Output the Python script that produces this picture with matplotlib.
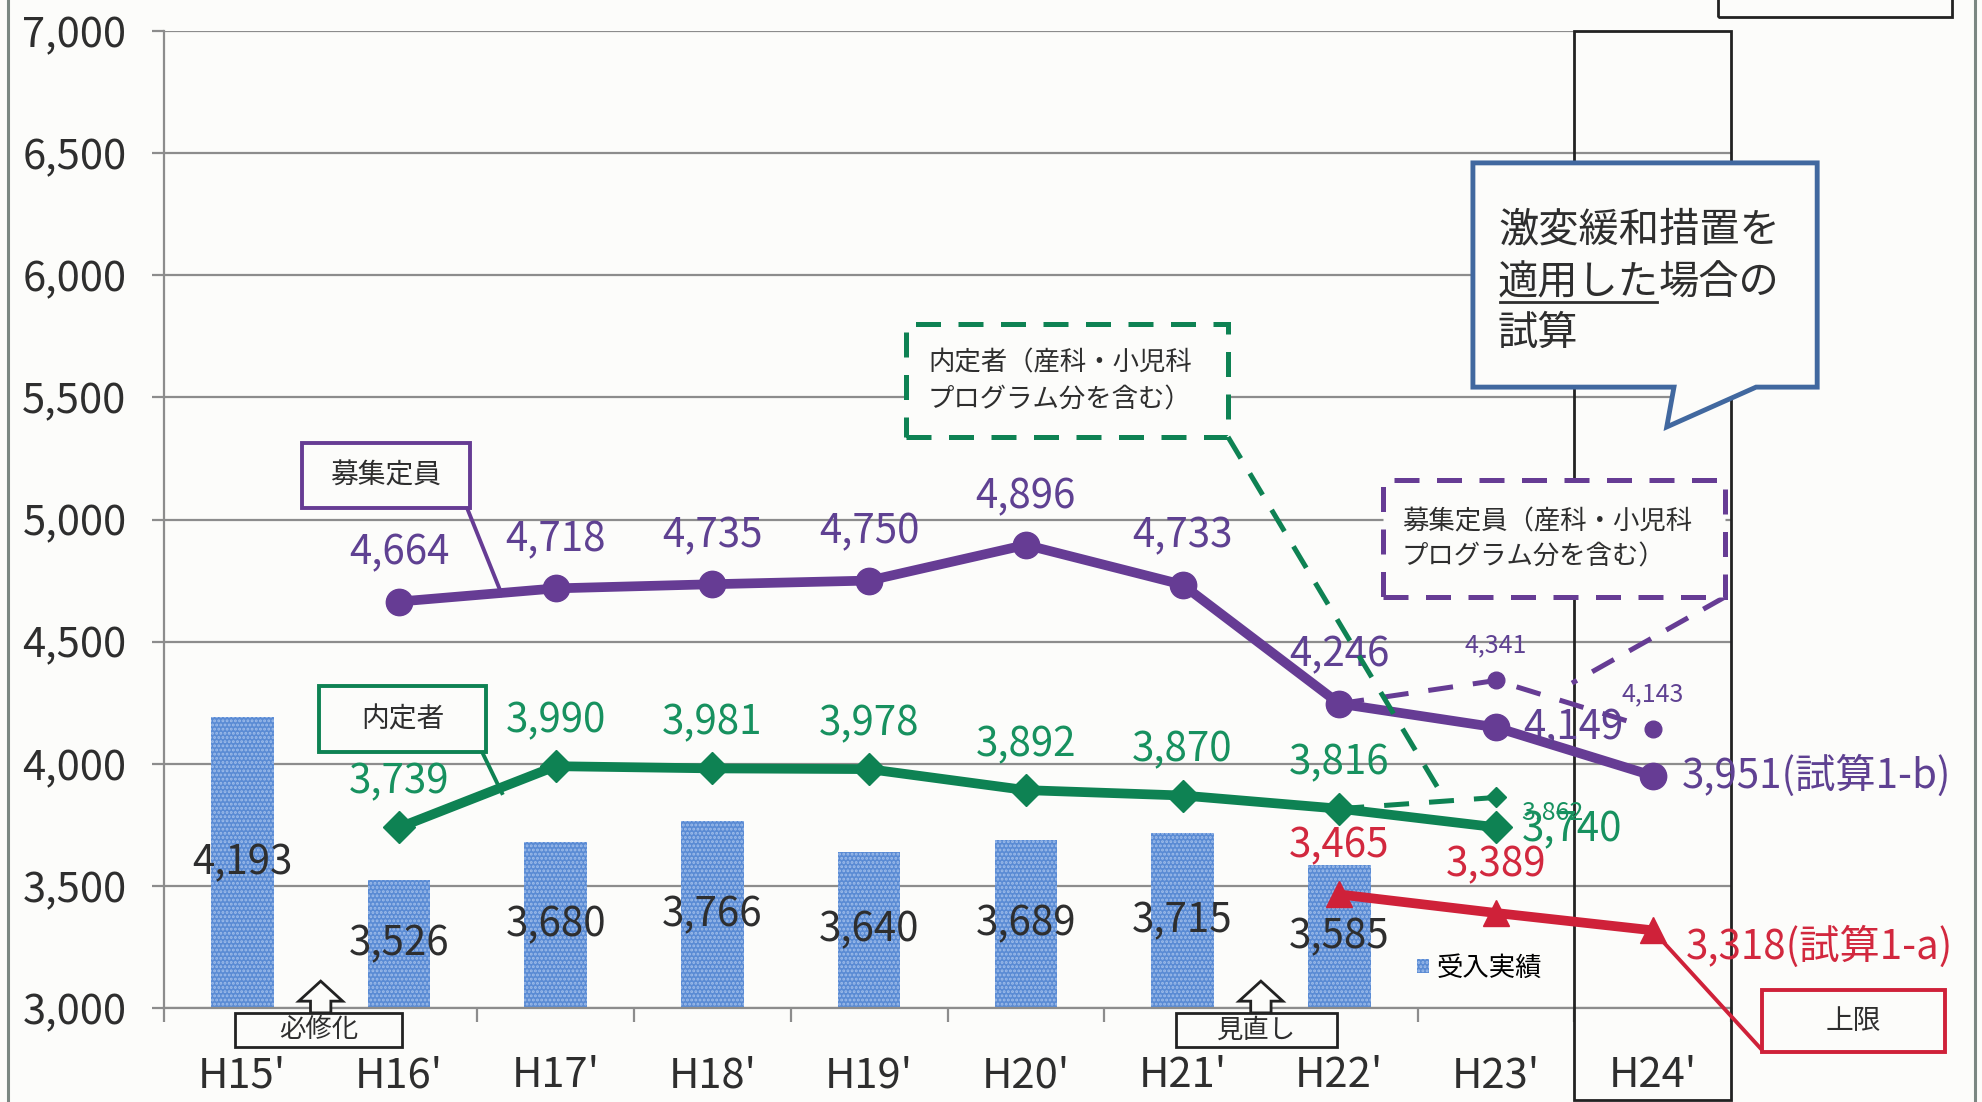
import matplotlib
matplotlib.use('Agg')
import matplotlib.pyplot as plt
import matplotlib.ticker as ticker
from matplotlib.patches import Rectangle, Polygon
from matplotlib.lines import Line2D

plt.rcParams['font.family'] = ['Noto Sans CJK JP', 'DejaVu Sans']
plt.rcParams['hatch.linewidth'] = 1.4

# data
years = ["H15'", "H16'", "H17'", "H18'", "H19'", "H20'", "H21'", "H22'", "H23'", "H24'"]
accepted = [4193, 3526, 3680, 3766, 3640, 3689, 3715, 3585]          # 受入実績 H15-H22
capacity = [4664, 4718, 4735, 4750, 4896, 4733, 4246, 4149, 3951]    # 募集定員 H16-H24
capacity_prog = [4246, 4341, 4143]                                     # 産科・小児科込み H22-H24
offered = [3739, 3990, 3981, 3978, 3892, 3870, 3816, 3740]            # 内定者 H16-H23
offered_prog = [3816, 3862]                                            # 産科・小児科込み H22-H23
upper = [3465, 3389, 3318]                                             # 上限 H22-H24
yticks = [3000, 3500, 4000, 4500, 5000, 5500, 6000, 6500, 7000]

PURPLE = '#663c94'
PURPLE_T = '#5f4192'
GREEN = '#0e8253'
GREEN_T = '#17915f'
RED = '#cf2139'
RED_T = '#d2283e'
BLUE = '#5a8bd4'
GRID = '#8c8c8c'
TXT = '#2e2e2e'

fig = plt.figure(figsize=(19.83, 11.02), dpi=100, facecolor='#fcfcfa')
ax = fig.add_axes([164 / 1983, 94 / 1102, 1567 / 1983, 977 / 1102])
ax.set_facecolor('none')
ax.set_xlim(-0.5, 9.5)
ax.set_ylim(3000, 7000)

# grid / axes
ax.set_yticks(yticks)
ax.set_yticklabels(['{:,}'.format(v) for v in yticks])
ax.yaxis.grid(True, color=GRID, linewidth=1.6)
ax.set_axisbelow(True)
for s in ['top', 'right']:
    ax.spines[s].set_visible(False)
for s in ['left', 'bottom']:
    ax.spines[s].set_color(GRID)
    ax.spines[s].set_linewidth(1.6)
ax.tick_params(axis='y', length=9, width=1.6, color=GRID, pad=18,
               labelsize=30, labelcolor=TXT)
ax.set_xticks(range(len(years)))
ax.set_xticklabels(years)
ax.tick_params(axis='x', which='major', length=0, pad=34, labelsize=30, labelcolor=TXT)
ax.xaxis.set_minor_locator(ticker.FixedLocator([i - 0.5 for i in range(len(years) + 1)]))
ax.tick_params(axis='x', which='minor', length=10, width=1.6, color=GRID)

# bars
xa = list(range(len(accepted)))
bars = ax.bar(xa, [v - 3000 for v in accepted], bottom=3000, width=0.4,
              color=BLUE, edgecolor='#9fbdea', linewidth=0, hatch='....', zorder=2,
              label='受入実績')
for x, v in zip(xa, accepted):
    ax.text(x, (3000 + v) / 2, '{:,}'.format(v), ha='center', va='center',
            fontsize=29, color=TXT, zorder=3)

# lines
xc = list(range(1, 1 + len(capacity)))
xo = list(range(1, 1 + len(offered)))
xu = list(range(7, 7 + len(upper)))
xcp = list(range(7, 7 + len(capacity_prog)))
xop = list(range(7, 7 + len(offered_prog)))

ax.plot(xcp, capacity_prog, color=PURPLE, lw=3.6, ls=(0, (5, 4)), marker='o', ms=12, zorder=4)
ax.plot(xop, offered_prog, color=GREEN, lw=3.6, ls=(0, (5, 4)), marker='D', ms=10, zorder=4)
ax.plot(xc, capacity, color=PURPLE, lw=7, marker='o', ms=19, zorder=5)
ax.plot(xo, offered, color=GREEN, lw=7, marker='D', ms=16, zorder=5)
ax.plot(xu, upper, color=RED, lw=7, marker='^', ms=19, zorder=5)

# value labels
def lab(x, y, s, dx, dy, color, size=29, ha='center'):
    ax.annotate(s, (x, y), xytext=(dx, dy), textcoords='offset points',
                ha=ha, va='center', fontsize=size, color=color, zorder=6)

for x, v in zip(xc[:-2], capacity[:-2]):
    lab(x, v, '{:,}'.format(v), 0, 35, PURPLE_T)
lab(xc[-2], capacity[-2], '{:,}'.format(capacity[-2]), 56, 0, PURPLE_T)
lab(xc[-1], capacity[-1], '{:,}(試算1-b)'.format(capacity[-1]), 21, 0, PURPLE_T, ha='left')
for x, v in zip(xo[:-1], offered[:-1]):
    lab(x, v, '{:,}'.format(v), 0, 33, GREEN_T)
lab(xo[-1], offered[-1], '{:,}'.format(offered[-1]), 55, -2, GREEN_T)
for x, v in zip(xu[:-1], upper[:-1]):
    lab(x, v, '{:,}'.format(v), 0, 35, RED_T)
lab(xu[-1], upper[-1], '{:,}(試算1-a)'.format(upper[-1]), 24, -12, RED_T, ha='left')
for x, v in zip(xcp[1:], capacity_prog[1:]):
    lab(x, v, '{:,}'.format(v), 0, 25, PURPLE_T, size=18)
lab(xop[-1], offered_prog[-1], '{:,}'.format(offered_prog[-1]), 41, -11, GREEN_T, size=18)

# H24 frame
ax.add_patch(Rectangle((8.5, 2625), 1.0, 4375, fill=False, edgecolor='#222222',
                       lw=2, clip_on=False, zorder=3))

# series name boxes
def box(x0, x1, y0, y1, ec, ls='-', lw=2.8):
    ax.add_patch(Rectangle((x0, y0), x1 - x0, y1 - y0, facecolor='#fcfcfa', edgecolor=ec,
                           lw=lw, ls=ls, clip_on=False, zorder=7))

box(0.381, 1.453, 5047, 5313, PURPLE)
ax.text(0.917, 5182, '募集定員', ha='center', va='center', fontsize=20, color=TXT, zorder=8)
ax.plot([1.434, 1.657], [5047, 4691], color=PURPLE, lw=2.8, zorder=6)

box(0.489, 1.555, 4048, 4318, GREEN)
ax.text(1.022, 4183, '内定者', ha='center', va='center', fontsize=20, color=TXT, zorder=8)
ax.plot([1.53, 1.657], [4048, 3880], color=GREEN, lw=2.8, zorder=6)

box(4.235, 6.29, 5338, 5800, GREEN, ls=(0, (5, 3.5)), lw=3.6)
ax.text(4.375, 5641, '内定者（産科・小児科', ha='left', va='center', fontsize=19, color=TXT, zorder=8)
ax.text(4.375, 5489, 'プログラム分を含む）', ha='left', va='center', fontsize=19, color=TXT, zorder=8)
ax.plot([6.29, 7.668], [5338, 3860], color=GREEN, lw=3.6, ls=(0, (5, 3.5)), zorder=6)

box(7.279, 9.462, 4683, 5162, PURPLE, ls=(0, (5, 3.5)), lw=3.6)
ax.text(7.40, 4990, '募集定員（産科・小児科', ha='left', va='center', fontsize=19, color=TXT, zorder=8)
ax.text(7.40, 4846, 'プログラム分を含む）', ha='left', va='center', fontsize=19, color=TXT, zorder=8)
ax.plot([9.462, 8.485], [4683, 4330], color=PURPLE, lw=3.6, ls=(0, (5, 3.5)), zorder=6)

# speech bubble
bubble = Polygon([(7.853, 6460), (10.05, 6460), (10.05, 5542), (9.66, 5542), (9.09, 5379),
                  (9.136, 5542), (7.853, 5542)], closed=True, facecolor='#fcfcfa',
                 edgecolor='#41689f', lw=3.5, clip_on=False, zorder=7)
ax.add_patch(bubble)
ax.text(8.013, 6185, '激変緩和措置を', ha='left', va='center', fontsize=29, color=TXT, zorder=8)
t1 = ax.text(8.013, 5968, '適用した', ha='left', va='center', fontsize=29, color=TXT, zorder=8)
ax.annotate('場合の', xy=(1, 0.5), xycoords=t1, ha='left', va='center', fontsize=29,
            color=TXT, zorder=8)
ax.text(8.013, 5764, '試算', ha='left', va='center', fontsize=29, color=TXT, zorder=8)

# 上限 box
box(9.698, 10.866, 2820, 3074, RED)
ax.text(10.28, 2947, '上限', ha='center', va='center', fontsize=20, color=TXT, zorder=8)
ax.plot([xu[-1], 9.698], [upper[-1], 2828], color=RED, lw=2.8, clip_on=False, zorder=6)

# event boxes with hollow arrows
def event(xc_, x0, x1, text):
    arrow = Polygon([(xc_ - 0.065, 2980), (xc_ - 0.065, 3028), (xc_ - 0.14, 3028), (xc_, 3110),
                     (xc_ + 0.14, 3028), (xc_ + 0.065, 3028), (xc_ + 0.065, 2980)],
                    closed=True, facecolor='#fcfcfa', edgecolor='#222222', lw=2,
                    clip_on=False, zorder=7)
    ax.add_patch(arrow)
    ax.add_patch(Rectangle((x0, 2840), x1 - x0, 140, facecolor='#fcfcfa', edgecolor='#222222',
                           lw=2, clip_on=False, zorder=7))
    ax.text((x0 + x1) / 2, 2910, text, ha='center', va='center', fontsize=19, color=TXT, zorder=8)

event(0.5, -0.047, 1.019, '必修化')
event(6.5, 5.958, 6.986, '見直し')

# legend
ax.legend(handles=[bars], loc='center left', bbox_to_anchor=(0.7996, 0.041), frameon=False,
          fontsize=19, handlelength=0.45, handleheight=0.45, handletextpad=0.3,
          borderaxespad=0, borderpad=0)

# page frame
fig.add_artist(Line2D([8 / 1983, 8 / 1983], [0, 1], transform=fig.transFigure, color='#7b8782', lw=2.2))
fig.add_artist(Line2D([1975 / 1983, 1975 / 1983], [0, 1], transform=fig.transFigure, color='#7b8782', lw=2.2))
fig.add_artist(Rectangle((1718 / 1983, 1085 / 1102), 234 / 1983, 40 / 1102, transform=fig.transFigure,
                         fill=False, edgecolor='#222222', lw=2))

# underline for 適用した
fig.canvas.draw()
bb = t1.get_window_extent()
inv = fig.transFigure.inverted()
(ux0, uy), (ux1, _) = inv.transform([(bb.x0 + 2, bb.y0 + 2), (bb.x1 - 2, bb.y0 + 2)])
fig.add_artist(Line2D([ux0, ux1], [uy, uy], transform=fig.transFigure, color=TXT, lw=2, zorder=9))

fig.savefig('out.png', dpi=100, facecolor=fig.get_facecolor())
